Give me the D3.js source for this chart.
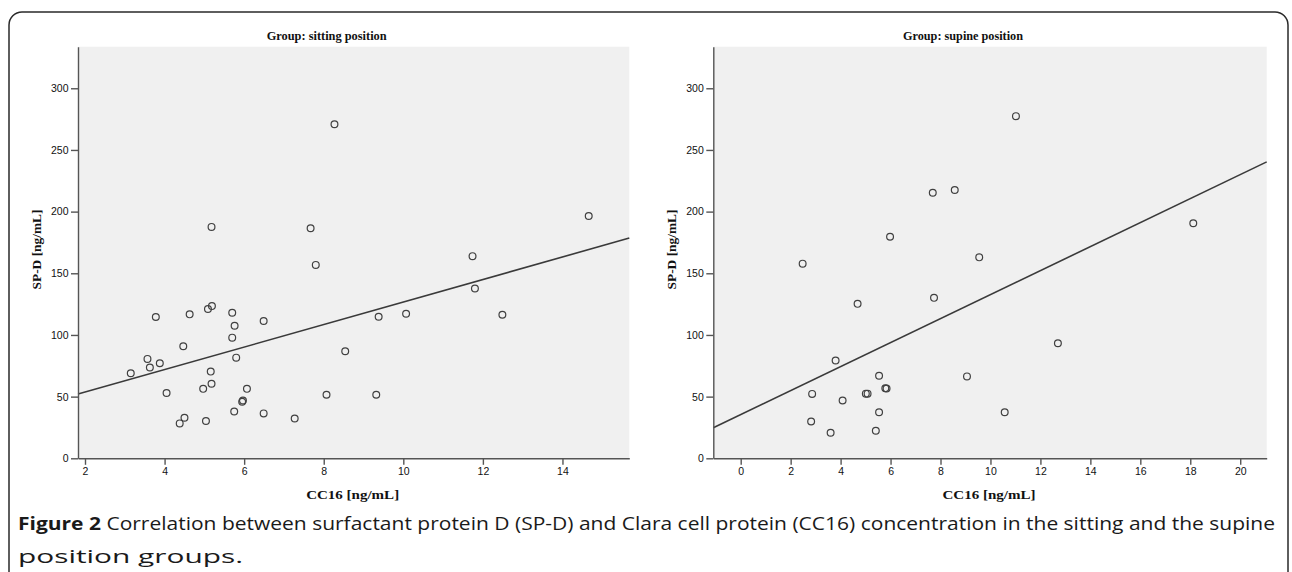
<!DOCTYPE html>
<html><head><meta charset="utf-8">
<script src="https://cdn.jsdelivr.net/npm/d3@7"></script>
<style>
html,body{margin:0;padding:0;background:#fff;}
svg{display:block;}
</style></head>
<body>
<svg id="chart" width="1292" height="572"></svg>
<script>
// ---- data ----
const sittingCC16 = [3.15,3.57,3.63,3.88,3.78,4.05,4.47,4.63,4.38,4.5,4.97,5.04,5.09,5.19,5.16,5.18,5.7,5.76,5.7,5.8,6.07,5.97,5.95,5.75,6.49,6.49,7.27,8.07,8.54,9.38,9.32,10.07,12.49,5.18,7.67,7.8,11.74,11.8,14.66,8.27];
const sittingSPD  = [69,80.6,73.6,77,114.5,53,90.8,116.7,28.3,32.9,56.3,30.2,121,123.4,70.3,60.4,118,107.5,97.8,81.6,56.3,46.9,45.8,38,111.3,36.4,32.3,51.5,86.8,114.8,51.5,117.2,116.4,187.6,186.5,156.8,163.9,137.7,196.4,270.8];
const supineCC16 = [11.02,7.69,8.57,5.98,2.48,9.55,18.12,4.68,7.74,3.8,12.7,5.54,9.06,2.86,4.08,5.01,5.08,5.79,5.84,5.54,10.57,2.82,3.6,5.41];
const supineSPD  = [277.4,215.3,217.5,179.6,157.8,162.9,190.6,125.2,130.1,79.3,93.3,66.9,66.4,52.2,46.8,52.4,52.4,56.7,56.5,37.3,37.3,29.8,20.7,22.3];
const sittingFit = [35.4, 9.13];   // intercept, slope
const supineFit  = [35.4, 9.73];
const sittingXTicks = [2,4,6,8,10,12,14];
const supineXTicks  = [0,2,4,6,8,10,12,14,16,18,20];
const yTicks = [0,50,100,150,200,250,300];
const titles = ["Group: sitting position","Group: supine position"];
const xLabel = "CC16 [ng/mL]";
const yLabel = "SP-D [ng/mL]";
const captionBold = "Figure 2";
const captionLine1 = " Correlation between surfactant protein D (SP-D) and Clara cell protein (CC16) concentration in the sitting and the supine";
const captionLine2 = "position groups.";

const svg = d3.select("#chart");

// outer rounded frame
svg.append("rect").attr("x",9).attr("y",12).attr("width",1279).attr("height",620)
  .attr("rx",13).attr("ry",13).attr("fill","none").attr("stroke","#2a2a2a").attr("stroke-width",1.5);

const plotTop = 46.7, plotBottom = 458.3;
const panels = [
  {x0:78, x1:629.3, xdom:[1.824,15.68], xs:sittingCC16, ys:sittingSPD, fit:sittingFit, ticks:sittingXTicks, title:titles[0]},
  {x0:713.3, x1:1266.7, xdom:[-1.097,21.06], xs:supineCC16, ys:supineSPD, fit:supineFit, ticks:supineXTicks, title:titles[1]}
];

function fitText(sel, w){
  const n = sel.node(); const L = n.getComputedTextLength();
  if (L>0) sel.attr("textLength", w).attr("lengthAdjust","spacingAndGlyphs");
}

panels.forEach(p => {
  const x = d3.scaleLinear().domain(p.xdom).range([p.x0,p.x1]);
  const y = d3.scaleLinear().domain([0,333.7]).range([plotBottom,plotTop]);
  const g = svg.append("g");
  g.append("rect").attr("x",p.x0).attr("y",plotTop).attr("width",p.x1-p.x0).attr("height",plotBottom-plotTop).attr("fill","#f0f0f0");

  // regression line
  const [a,b] = p.fit;
  g.append("line")
    .attr("x1",x(p.xdom[0])).attr("y1",y(a+b*p.xdom[0]))
    .attr("x2",x(p.xdom[1])).attr("y2",y(a+b*p.xdom[1]))
    .attr("stroke","#3a3a3a").attr("stroke-width",1.6);

  // points
  g.selectAll("circle.pt").data(p.xs.map((v,i)=>[v,p.ys[i]])).join("circle")
    .attr("class","pt").attr("cx",d=>x(d[0])).attr("cy",d=>y(d[1])).attr("r",3.4)
    .attr("fill","none").attr("stroke","#404040").attr("stroke-width",1.2);

  // axes
  const xa = g.append("g").attr("transform",`translate(0,${plotBottom})`)
    .call(d3.axisBottom(x).tickValues(p.ticks).tickSize(6.5).tickPadding(2.5).tickSizeOuter(0));
  const ya = g.append("g").attr("transform",`translate(${p.x0},0)`)
    .call(d3.axisLeft(y).tickValues(yTicks).tickSize(7).tickPadding(2.5).tickSizeOuter(0));
  [xa,ya].forEach(ax=>{
    ax.select(".domain").attr("stroke","#555").attr("stroke-width",1.4);
    ax.selectAll(".tick line").attr("stroke","#555").attr("stroke-width",1.4);
    ax.selectAll(".tick text").attr("fill","#111").style("font-family","'Liberation Sans', Arial, sans-serif").style("font-size","10.5px");
  });
  const cx = (p.x0+p.x1)/2;
  const t = g.append("text").attr("x",cx-27).attr("y",40).attr("text-anchor","middle")
    .style("font-family","'Liberation Serif','Times New Roman',serif").style("font-weight","bold").style("font-size","12px")
    .attr("fill","#111").text(p.title);
  fitText(t,120);
  const xl = g.append("text").attr("x",cx-1).attr("y",499).attr("text-anchor","middle")
    .style("font-family","'Liberation Serif','Times New Roman',serif").style("font-weight","bold").style("font-size","13px")
    .attr("fill","#111").text(xLabel);
  fitText(xl,93);
  const yl = g.append("text").attr("transform",`translate(${p.x0-37},${(plotTop+plotBottom)/2-3}) rotate(-90)`).attr("text-anchor","middle")
    .style("font-family","'Liberation Serif','Times New Roman',serif").style("font-weight","bold").style("font-size","13px")
    .attr("fill","#111").text(yLabel);
  fitText(yl,80);
});

// caption
const cap = svg.append("text").attr("x",18).attr("y",530)
  .style("font-family","'Open Sans','Noto Sans',sans-serif").style("font-size","18px").attr("fill","#1a1a1a");
cap.append("tspan").style("font-weight","bold").text(captionBold);
cap.append("tspan").text(captionLine1);
fitText(cap,1257);
const cap2 = svg.append("text").attr("x",18).attr("y",563)
  .style("font-family","'Open Sans','Noto Sans',sans-serif").style("font-size","18px").attr("fill","#1a1a1a")
  .text(captionLine2);
fitText(cap2,225);
</script>
</body></html>
